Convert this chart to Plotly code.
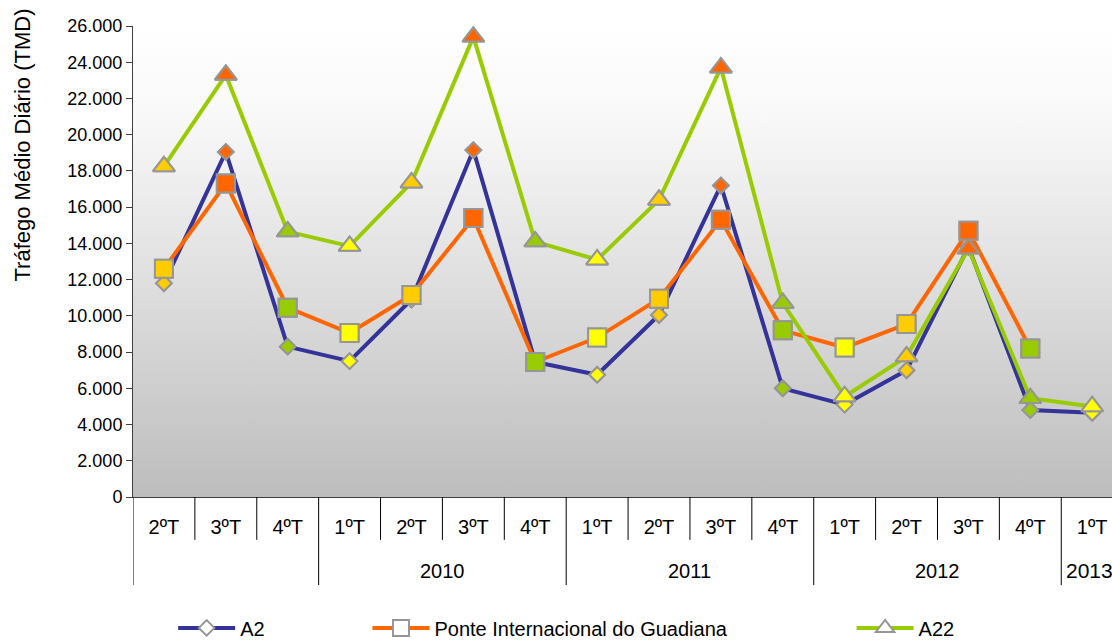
import plotly.graph_objects as go

# quarterly average daily traffic (TMD)
quarters = ['2ºT', '3ºT', '4ºT', '1ºT', '2ºT', '3ºT', '4ºT', '1ºT',
            '2ºT', '3ºT', '4ºT', '1ºT', '2ºT', '3ºT', '4ºT', '1ºT']
years = ['2010', '2011', '2012', '2013']
year_first_idx = [3, 7, 11, 15]

a2 = [11800, 19050, 8300, 7500, 10900, 19150, 7450, 6750,
      10050, 17200, 6000, 5100, 7000, 13800, 4800, 4650]
ponte = [12600, 17300, 10450, 9050, 11150, 15400, 7450, 8800,
         10950, 15300, 9200, 8250, 9550, 14700, 8200, None]
a22 = [18250, 23300, 14650, 13850, 17350, 25400, 14100, 13100,
       16400, 23700, 10700, 5550, 7750, 13700, 5450, 5000]

QUARTER_COLORS = {'1': '#FFFF00', '2': '#FFCC00', '3': '#FF6600', '4': '#99CC00'}
MARKER_EDGE = '#969696'
FONT = 'Liberation Sans, Arial, sans-serif'

x = list(range(len(quarters)))
point_colors = [QUARTER_COLORS[q[0]] for q in quarters]

fig = go.Figure()

# plot area background: white at the top fading to grey
fig.add_trace(go.Scatter(
    x=[-0.5, 15.5, 15.5, -0.5, -0.5],
    y=[0, 0, 26000, 26000, 0],
    mode='lines', fill='toself', line=dict(width=0),
    fillgradient=dict(type='vertical', start=0, stop=26000,
                      colorscale=[[0, '#BDBDBD'], [0.8, '#F8F8F8'], [1, '#FFFFFF']]),
    hoverinfo='skip', showlegend=False
))

series = [
    ('A2', a2, '#333399', 'diamond', 12, 'legend'),
    ('Ponte Internacional do Guadiana', ponte, '#FF6600', 'square', 18, 'legend2'),
    ('A22', a22, '#99CC00', 'triangle-up', 19, 'legend3'),
]

for name, vals, color, symbol, size, leg in series:
    fig.add_trace(go.Scatter(
        x=x, y=vals, name=name, mode='lines+markers',
        line=dict(color=color, width=4),
        marker=dict(symbol=symbol, size=size, color='white',
                    line=dict(color=MARKER_EDGE, width=2)),
        legend=leg
    ))
    fig.add_trace(go.Scatter(
        x=x, y=vals, mode='markers', showlegend=False,
        marker=dict(symbol=symbol, size=size, color=point_colors,
                    line=dict(color=MARKER_EDGE, width=2))
    ))

# category table below the axis
shapes = []
for i in range(len(quarters)):
    b = i - 0.5
    long_line = i == 0 or i in year_first_idx
    shapes.append(dict(type='line', xref='x', yref='paper', x0=b, x1=b,
                       y0=0, y1=-0.187 if long_line else -0.091,
                       line=dict(color='#000000', width=1)))

annotations = []
for yr, idx, nxt in zip(years, year_first_idx, year_first_idx[1:] + [None]):
    if nxt is None:
        annotations.append(dict(x=idx - 0.5, y=-0.157, xref='x', yref='paper',
                                text=yr, showarrow=False, xanchor='left', xshift=3,
                                yanchor='middle', font=dict(size=21, color='#000000')))
    else:
        annotations.append(dict(x=(idx + nxt - 1) / 2, y=-0.157, xref='x', yref='paper',
                                text=yr, showarrow=False, yanchor='middle',
                                font=dict(size=20, color='#000000')))

annotations.append(dict(x=-0.113, y=0.747, xref='paper', yref='paper',
                        text='Tráfego Médio Diário (TMD)', textangle=-90,
                        xanchor='center', yanchor='middle',
                        showarrow=False, font=dict(size=22, color='#000000')))

legend_style = dict(orientation='h', yref='container', yanchor='middle', xanchor='left',
                    y=0.022, itemwidth=57,
                    bgcolor='rgba(0,0,0,0)', font=dict(size=20, color='#000000'))

fig.update_layout(
    width=1112, height=642,
    margin=dict(l=133, r=0, t=26, b=145),
    paper_bgcolor='white', plot_bgcolor='white',
    font=dict(family=FONT, size=18, color='#000000'),
    separators=',.',
    showlegend=True,
    legend=dict(x=0.041, **legend_style),
    legend2=dict(x=0.2395, **legend_style),
    legend3=dict(x=0.734, **legend_style),
    xaxis=dict(range=[-0.5, 15.32], tickmode='array', tickvals=x, ticktext=quarters,
               showgrid=False, zeroline=False, showline=True, linecolor='#404040',
               linewidth=1, ticks='', ticklabelstandoff=12,
               tickfont=dict(size=20, color='#000000')),
    yaxis=dict(range=[0, 26000], dtick=2000, tickformat=',d', showgrid=False,
               zeroline=False, showline=True, linecolor='#404040', linewidth=1,
               ticks='outside', ticklen=6, tickcolor='#404040',
               tickfont=dict(size=18, color='#000000')),
    shapes=shapes,
    annotations=annotations,
)

fig.write_html('out.html', config={'displayModeBar': False},
               post_script="document.body.style.margin='0';document.body.style.overflow='hidden';")
